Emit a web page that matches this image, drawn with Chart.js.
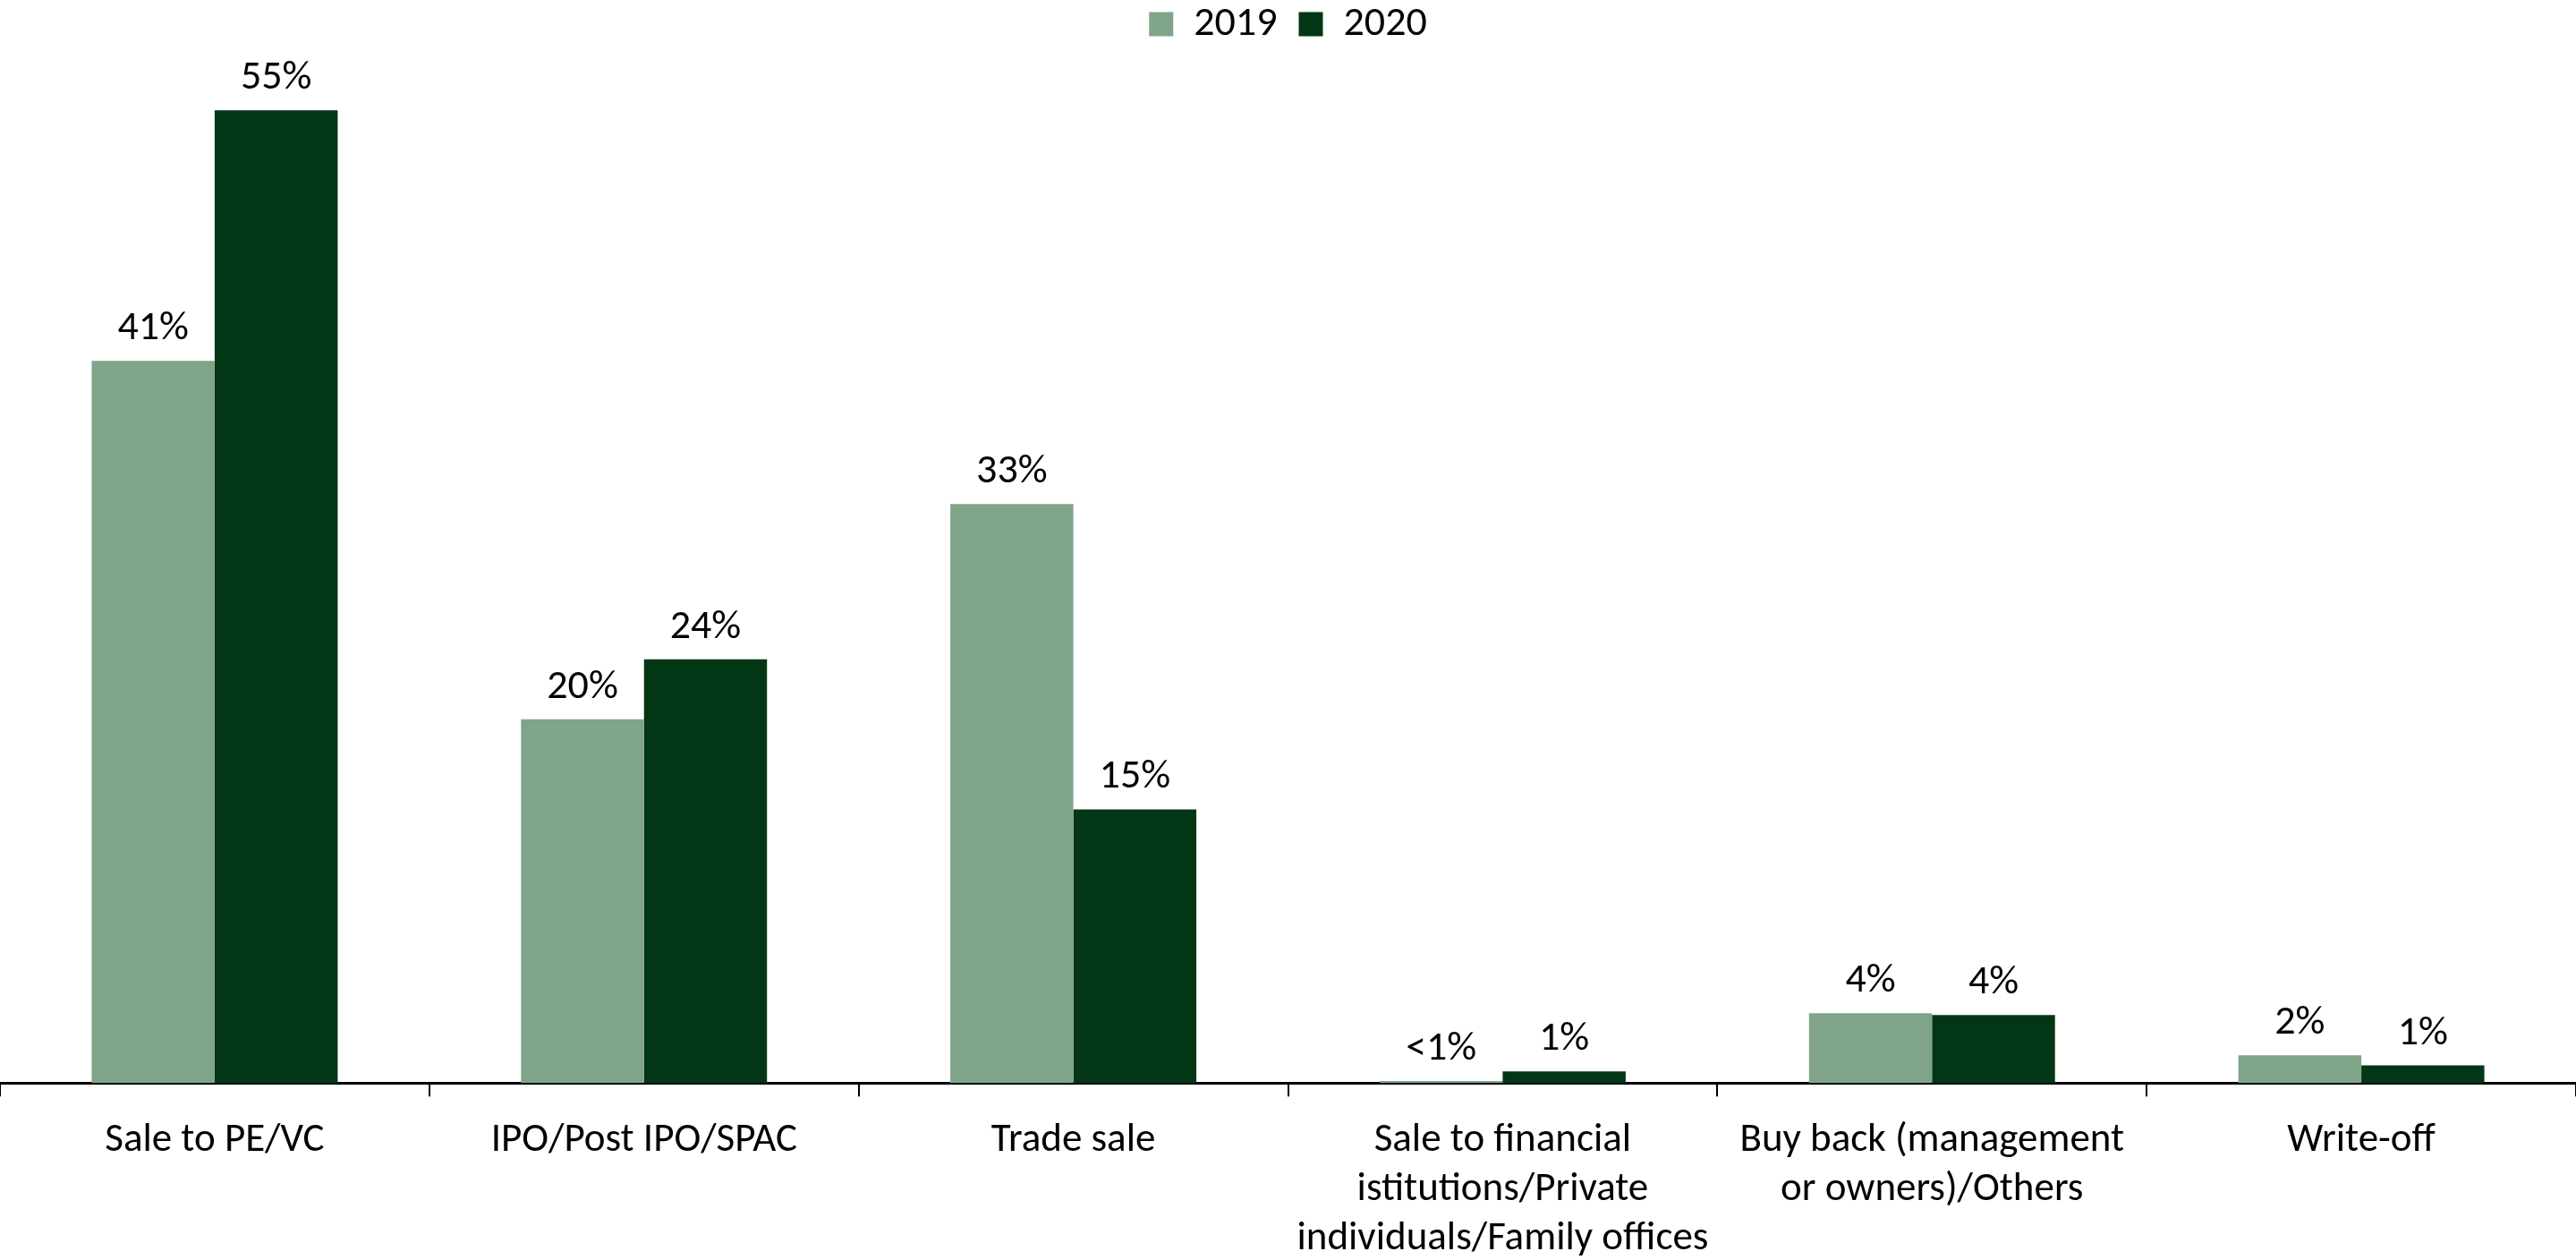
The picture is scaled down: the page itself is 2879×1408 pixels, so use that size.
<!DOCTYPE html>
<html>
<head>
<meta charset="utf-8">
<script src="https://cdn.jsdelivr.net/npm/chart.js@4.4.1/dist/chart.umd.min.js"></script>
<style>
  html, body { margin: 0; padding: 0; background: #fff; overflow: hidden; }
  #wrap { width: 2879px; height: 1434px; position: relative; }
</style>
</head>
<body>
<div id="wrap"><canvas id="exitChart"></canvas></div>
<script>
// カテゴリとシリーズの値
const categories = [
    'Sale to PE/VC',
    'IPO/Post IPO/SPAC',
    'Trade sale',
    ['Sale to financial', 'istitutions/Private', 'individuals/Family offices'],
    ['Buy back (management', 'or owners)/Others'],
    'Write-off'
];
const seriesNames = ['2019', '2020'];
const values2019 = [40.9, 20.6, 32.8, 0.12, 3.96, 1.57];
const values2020 = [55.1, 24.0, 15.5, 0.66, 3.85, 1.0];
const labels2019 = ['41%', '20%', '33%', '<1%', '4%', '2%'];
const labels2020 = ['55%', '24%', '15%', '1%', '4%', '1%'];
const yMax = 58.3;

const FONT = 'Carlito, Calibri, Lato, sans-serif';
const lightGreen = '#80a488';
const darkGreen = '#023614';

// バーの上にラベルを描くプラグイン
const barLabels = {
    id: 'barLabels',
    afterDatasetsDraw(chart) {
        const ctx = chart.ctx;
        const texts = [labels2019, labels2020];
        ctx.save();
        ctx.font = '46px ' + FONT;
        ctx.fillStyle = '#000';
        ctx.textAlign = 'center';
        ctx.textBaseline = 'alphabetic';
        chart.data.datasets.forEach((ds, i) => {
            const meta = chart.getDatasetMeta(i);
            meta.data.forEach((bar, j) => {
                ctx.fillText(texts[i][j], bar.x, bar.y - 24);
            });
        });
        ctx.restore();
    }
};

new Chart(document.getElementById('exitChart'), {
    type: 'bar',
    data: {
        labels: categories,
        datasets: [
            { label: seriesNames[0], data: values2019, backgroundColor: lightGreen },
            { label: seriesNames[1], data: values2020, backgroundColor: darkGreen }
        ]
    },
    options: {
        responsive: true,
        maintainAspectRatio: false,
        animation: false,
        layout: { padding: { left: 0, right: 0, top: -20, bottom: 0 } },
        datasets: {
            bar: { categoryPercentage: 0.573, barPercentage: 1.0 }
        },
        plugins: {
            legend: {
                position: 'top',
                align: 'center',
                labels: {
                    boxWidth: 27,
                    boxHeight: 27,
                    padding: 24,
                    color: '#000',
                    font: { family: FONT, size: 46 }
                }
            },
            tooltip: { enabled: false }
        },
        scales: {
            x: {
                border: { display: true, color: '#000', width: 3 },
                grid: {
                    display: true,
                    offset: true,
                    drawOnChartArea: false,
                    drawTicks: true,
                    tickLength: 15,
                    color: '#000',
                    lineWidth: 2
                },
                ticks: {
                    color: '#000',
                    padding: 22,
                    maxRotation: 0,
                    autoSkip: false,
                    font: { family: FONT, size: 45, lineHeight: 1.22 }
                }
            },
            y: {
                display: false,
                min: 0,
                max: yMax
            }
        }
    },
    plugins: [barLabels]
});
</script>
</body>
</html>
